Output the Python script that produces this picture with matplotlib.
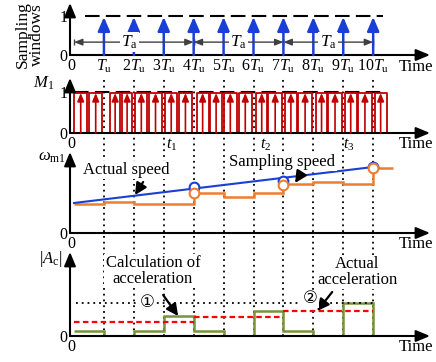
import numpy as np
import matplotlib.pyplot as plt

plt.rcParams['font.family'] = ['Liberation Serif', 'DejaVu Sans', 'Noto Sans CJK SC']
plt.rcParams['mathtext.fontset'] = 'custom'
plt.rcParams['mathtext.rm'] = 'Liberation Serif'
plt.rcParams['mathtext.it'] = 'Liberation Serif:italic'
plt.rcParams['font.size'] = 11.5

# ---- data (time in units of Tu) ----
tick_pos = [-0.1, 1, 2, 3, 4, 5, 6, 7, 8, 9, 10]
tick_labels = ['0', r'$T_{\rm u}$', r'$2T_{\rm u}$', r'$3T_{\rm u}$', r'$4T_{\rm u}$',
               r'$5T_{\rm u}$', r'$6T_{\rm u}$', r'$7T_{\rm u}$', r'$8T_{\rm u}$',
               r'$9T_{\rm u}$', r'$10T_{\rm u}$']
sample_times = [1, 2, 3, 4, 5, 6, 7, 8, 9, 10]
ta_start = [0, 4, 7]
ta_end = [4, 7, 10]
ta_label_t = [1.85, 5.5, 8.5]

# switching signal M1
pulse_start = [0.0, 0.5, 1.2, 1.6, 2.05, 2.5, 3.05, 3.5, 4.1, 4.55, 5.0,
               5.5, 6.1, 6.5, 7.05, 7.5, 8.1, 8.5, 9.05, 9.5, 10.05]
pulse_end = [0.45, 0.95, 1.55, 1.95, 2.45, 2.95, 3.45, 3.95, 4.5, 4.95, 5.45,
             5.95, 6.45, 6.95, 7.45, 7.95, 8.45, 8.95, 9.45, 9.95, 10.45]
pulse_high = 0.975
t_labels = [r'$t_1$', r'$t_2$', r'$t_3$']
t_label_pos = [3.28, 6.39, 9.2]

# speed
actual_t = [0, 10]
actual_speed = [3.0, 6.6]
sampled_edges = [0, 1, 2, 4, 5, 6, 7, 8, 9, 10, 10.65]
sampled_speed = [2.9, 3.15, 2.9, 4.0, 3.6, 4.0, 4.9, 5.1, 4.9, 6.5]
circle_t = [4, 7, 10]
circle_actual = [4.6, 5.15, 6.6]
circle_sampled = [4.0, 4.85, 6.5]

# acceleration
acc_edges = [0, 1, 2, 3, 4, 5, 6, 7, 8, 9, 10, 10.65]
calc_acc = [0.5, 0.0, 0.5, 2.0, 0.5, 0.0, 2.5, 0.55, 0.0, 3.3, 0.0]
act_start = [0, 4, 7]
act_end = [4, 7, 10]
act_acc = [1.4, 1.9, 2.5]
acc_ref = 3.3

BLUE = '#1a3fd6'
ORANGE = '#ed7d31'
GREEN = '#77933c'
DRED = '#c00000'
RED = '#ff0000'

W, H = 436, 362
fig = plt.figure(figsize=(W / 100, H / 100), dpi=100)
XL = (-0.134, 11.9)


def panel(bottom, top, z=1):
    ax = fig.add_axes([70 / W, 1 - bottom / H, 360 / W, (bottom - top) / H], zorder=z)
    ax.set_facecolor('none')
    ax.set_xlim(XL)
    for s in ax.spines.values():
        s.set_visible(False)
    return ax


def arrows(ax):
    ap = dict(arrowstyle='-|>,head_length=0.6,head_width=0.25', lw=1.5, color='k',
              mutation_scale=14, shrinkA=0, shrinkB=0)
    ax.annotate('', xy=(1, 0), xytext=(0, 0), xycoords='axes fraction', arrowprops=ap)
    ax.annotate('', xy=(0, 1), xytext=(0, 0), xycoords='axes fraction', arrowprops=ap)
    ax.tick_params(length=0, pad=2)


def pointer(ax, tail, head):
    ax.annotate('', xy=head, xytext=tail,
                arrowprops=dict(arrowstyle='-|>,head_length=0.7,head_width=0.35', lw=1.6,
                                color='k', mutation_scale=10, shrinkA=0, shrinkB=0))


# background dotted grid lines
bg = fig.add_axes([70 / W, 1 - 336 / H, 360 / W, (336 - 76) / H], zorder=0)
bg.set_xlim(XL)
bg.set_ylim(0, 1)
bg.axis('off')
bg.vlines(sample_times, 0, 1, colors='k', linestyles=(0, (1, 2.2)), lw=1.3)

box = dict(facecolor='white', edgecolor='none', pad=1)

# ---- panel 1: sampling windows ----
ax1 = panel(55, 3)
ax1.set_ylim(0, 52 / 39)
arrows(ax1)
ax1.set_xticks(tick_pos, tick_labels)
ax1.set_yticks([0, 1], ['0', '1'])
ax1.hlines(1, 0.37, 10.33, colors='k', linestyles=(0, (7, 3)), lw=1.5)
for t in sample_times:
    ax1.annotate('', xy=(t, 0.975), xytext=(t, 0),
                 arrowprops=dict(arrowstyle='-|>,head_length=0.7,head_width=0.3', lw=1.8,
                                 color=BLUE, mutation_scale=12, shrinkA=0, shrinkB=0))
for s, e, lt in zip(ta_start, ta_end, ta_label_t):
    ax1.annotate('', xy=(e, 0.33), xytext=(s, 0.33),
                 arrowprops=dict(arrowstyle='<|-|>,head_length=0.5,head_width=0.2', lw=1,
                                 color='#404040', mutation_scale=10, shrinkA=0, shrinkB=0))
    ax1.vlines([s, e], 0.26, 0.40, colors='#404040', lw=1)
    ax1.text(lt, 0.33, r'$T_{\rm a}$', ha='center', va='center', fontsize=12.5, bbox=box)

# ---- panel 2: M1 ----
ax2 = panel(133, 78)
ax2.set_ylim(0, 55 / 41)
arrows(ax2)
ax2.set_xticks([-0.1], ['0'])
ax2.set_yticks([0, 1], ['0', '1'])
ax2.hlines(1, 0, 10.3, colors='k', linestyles=(0, (7, 3)), lw=1.5)
for s, e in zip(pulse_start, pulse_end):
    ax2.plot([s, s, e, e], [0, pulse_high, pulse_high, 0], color=DRED, lw=1.3)
    c = (s + e) / 2
    ax2.annotate('', xy=(c, pulse_high), xytext=(c, 0),
                 arrowprops=dict(arrowstyle='-|>,head_length=0.6,head_width=0.25', lw=1.2,
                                 color=DRED, mutation_scale=8, shrinkA=0, shrinkB=0))
for lab, tp in zip(t_labels, t_label_pos):
    ax2.text(tp, -0.29, lab, ha='center', va='center')

# ---- panel 3: speed ----
ax3 = panel(233, 152)
ax3.set_ylim(0, 8.1)
arrows(ax3)
ax3.set_xticks([-0.1], ['0'])
ax3.set_yticks([0], ['0'])
ax3.plot(actual_t, actual_speed, color=BLUE, lw=1.5)
ax3.stairs(sampled_speed, sampled_edges, baseline=None, color=ORANGE, lw=1.8)
ax3.plot(circle_t, circle_actual, 'o', ms=7, mfc='white', mec=BLUE, mew=1.5)
ax3.plot(circle_t, circle_sampled, 'o', ms=7, mfc='white', mec=ORANGE, mew=1.5)
ax3.text(1.74, 6.3, 'Actual speed', ha='center', va='center', fontsize=12, bbox=box)
pointer(ax3, (2.31, 5.1), (2.04, 3.8))
ax3.text(6.96, 7.1, 'Sampling speed', ha='center', va='center', fontsize=12, bbox=box)
pointer(ax3, (7.56, 5.8), (7.39, 5.0))

# ---- panel 4: acceleration ----
ax4 = panel(336, 252)
ax4.set_ylim(0, 8.4)
arrows(ax4)
ax4.set_xticks([-0.1], ['0'])
ax4.set_yticks([0], ['0'])
ax4.hlines(acc_ref, 0.05, 10, colors='k', linestyles=(0, (1, 2.2)), lw=1.3)
ax4.hlines(act_acc, act_start, act_end, colors=RED, linestyles=(0, (2.5, 1.5)), lw=1.6)
ax4.stairs(calc_acc, acc_edges, baseline=None, color=GREEN, lw=1.8)
ax4.text(2.64, 6.5, 'Calculation of\nacceleration', ha='center', va='center',
         fontsize=12, linespacing=0.95, bbox=box)
pointer(ax4, (2.98, 4.1), (3.48, 2.0))
ax4.text(9.46, 6.4, 'Actual\nacceleration', ha='center', va='center',
         fontsize=12, linespacing=0.95, bbox=box)
pointer(ax4, (8.63, 4.4), (8.13, 2.5))
ax4.text(2.44, 3.3, '\u2460', ha='center', va='center', fontsize=12, bbox=box)
ax4.text(7.89, 3.7, '\u2461', ha='center', va='center', fontsize=12, bbox=box)

# ---- labels ----
fig.text(30 / W, 1 - 35 / H, 'Sampling\nwindows', rotation=90, ha='center', va='center',
         fontsize=12.5, linespacing=0.9)
fig.text(44 / W, 1 - 83 / H, r'$M_1$', ha='center', va='center', fontsize=12)
fig.text(52 / W, 1 - 157 / H, r'$\omega_{\rm m1}$', ha='center', va='center', fontsize=12)
fig.text(51 / W, 1 - 259 / H, r'$|A_{\rm c}|$', ha='center', va='center', fontsize=12)
for yp in [67, 144, 244, 347]:
    fig.text(433 / W, 1 - yp / H, 'Time', ha='right', va='center', fontsize=12)

fig.savefig('out.png', dpi=100)
